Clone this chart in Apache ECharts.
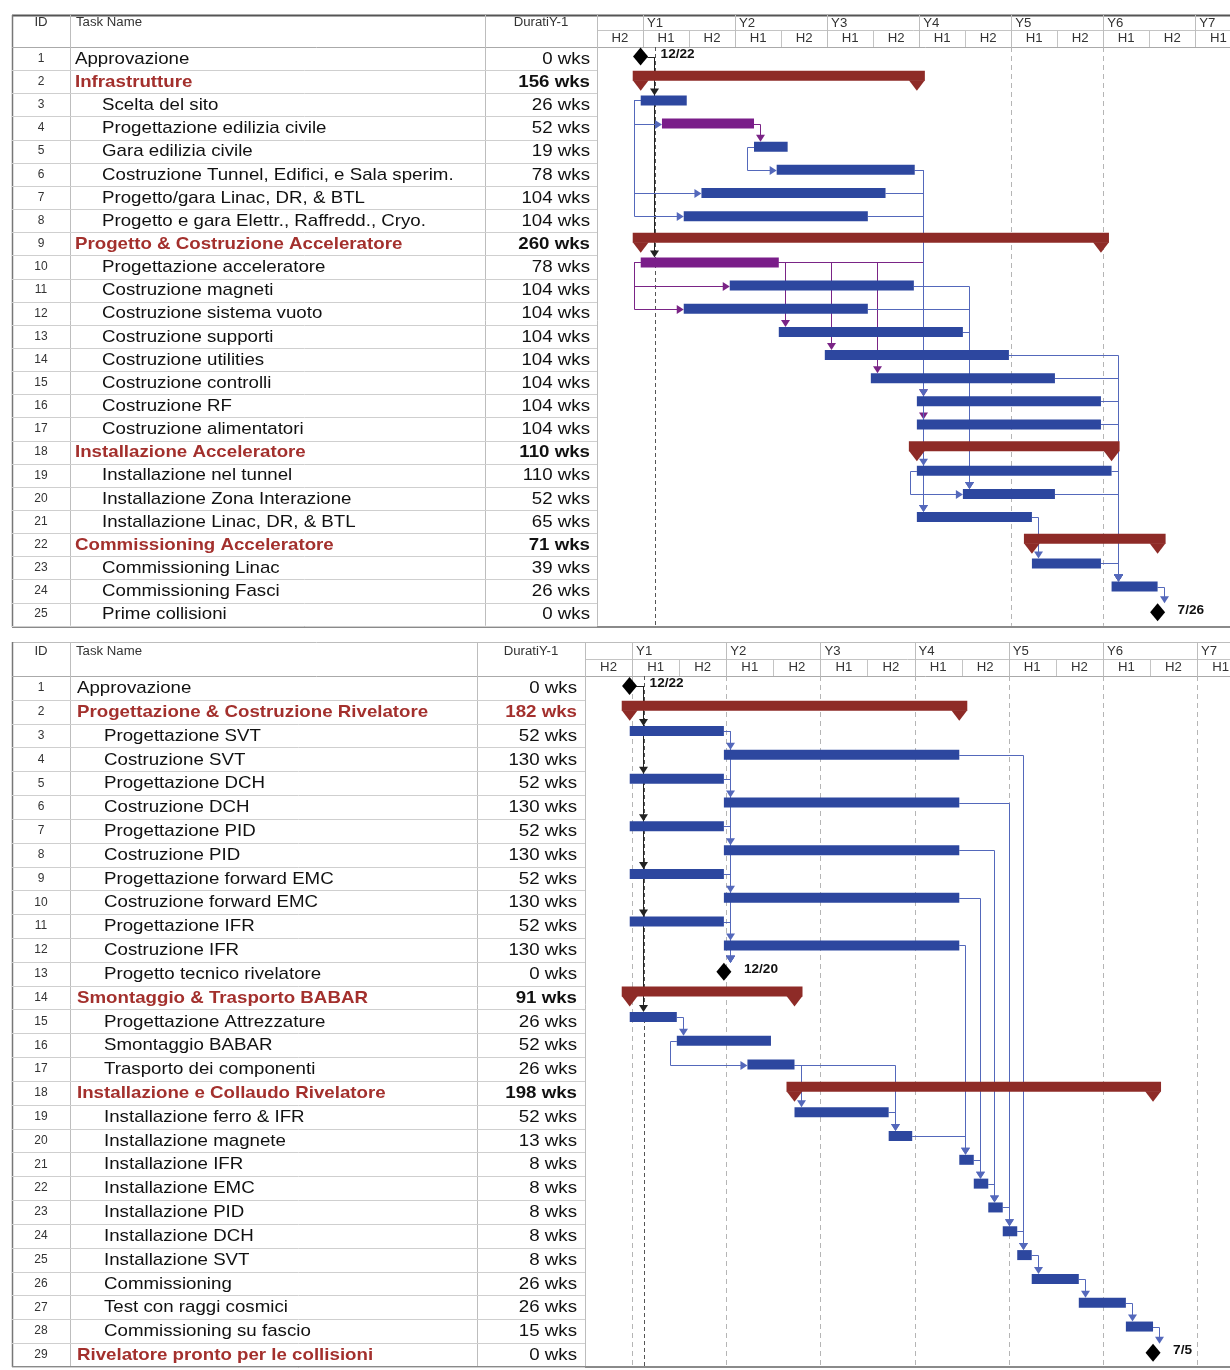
<!DOCTYPE html>
<html>
<head>
<meta charset="utf-8">
<title>Gantt</title>
<script src="https://cdn.jsdelivr.net/npm/echarts@6/dist/echarts.min.js"></script>
<style>
html,body{margin:0;padding:0;background:#ffffff;}
#chart{width:1230px;height:1370px;}
</style>
</head>
<body>
<div id="chart"></div>
<script>
// ---------------- tick labels ----------------
const yearLabels = ['Y1','Y2','Y3','Y4','Y5','Y6','Y7'];
const halfLabels = ['H2','H1','H2','H1','H2','H1','H2','H1','H2','H1','H2','H1','H2','H1'];
const tableHeaders = ['ID','Task Name','DuratiY-1'];

// ---------------- top panel : acceleratore ----------------
const topIds = [1,2,3,4,5,6,7,8,9,10,11,12,13,14,15,16,17,18,19,20,21,22,23,24,25];
const topNames = [
  'Approvazione','Infrastrutture','Scelta del sito','Progettazione edilizia civile','Gara edilizia civile',
  'Costruzione Tunnel, Edifici, e Sala sperim.','Progetto/gara Linac, DR, & BTL','Progetto e gara Elettr., Raffredd., Cryo.',
  'Progetto & Costruzione Acceleratore','Progettazione acceleratore','Costruzione magneti','Costruzione sistema vuoto',
  'Costruzione supporti','Costruzione utilities','Costruzione controlli','Costruzione RF','Costruzione alimentatori',
  'Installazione Acceleratore','Installazione nel tunnel','Installazione Zona Interazione','Installazione Linac, DR, & BTL',
  'Commissioning Acceleratore','Commissioning Linac','Commissioning Fasci','Prime collisioni'
];
const topDurations = [0,156,26,52,19,78,104,104,260,78,104,104,104,104,104,104,104,110,110,52,65,71,39,26,0];
const topStarts = [-1.4,-1.3,-1.3,10.7,62.7,75.5,33,23,-1.3,-1.3,49,23,76.7,102.7,128.7,154.7,154.7,154.7,154.7,180.7,154.7,219.7,219.7,264.7,290.7];
const topKinds = ['M','S','T','C','T','T','T','T','S','C','T','T','T','T','T','T','T','S','T','T','T','S','T','T','M'];
const topLevels = [0,0,1,1,1,1,1,1,0,1,1,1,1,1,1,1,1,0,1,1,1,0,1,1,1];
const topDates = [[1,'12/22'],[25,'7/26']];
const topLinks = [
  [1,3,'FS'],[1,10,'FS'],[3,4,'SS'],[4,5,'FS'],[5,6,'SS'],[3,7,'SS'],[3,8,'SS'],
  [10,11,'SS'],[10,12,'SS'],[10,13,'FS'],[10,14,'FS'],[10,15,'FS'],[10,16,'FS'],[10,17,'FS'],
  [6,19,'FS'],[6,21,'FS'],[7,21,'FS'],[8,16,'FS'],[11,20,'FS'],[12,20,'FS'],[13,20,'FS'],[19,20,'SS'],
  [14,24,'FS'],[15,24,'FS'],[16,24,'FS'],[17,24,'FS'],[19,24,'FS'],[20,24,'FS'],[23,24,'FS'],
  [21,23,'FS'],[24,25,'FS']
];
const topYearLines = [208,260];
const topStatusWeek = 6.8;

// ---------------- bottom panel : rivelatore ----------------
const botIds = [1,2,3,4,5,6,7,8,9,10,11,12,13,14,15,16,17,18,19,20,21,22,23,24,25,26,27,28,29];
const botNames = [
  'Approvazione','Progettazione & Costruzione Rivelatore','Progettazione SVT','Costruzione SVT','Progettazione DCH',
  'Costruzione DCH','Progettazione PID','Costruzione PID','Progettazione forward EMC','Costruzione forward EMC',
  'Progettazione IFR','Costruzione IFR','Progetto tecnico rivelatore','Smontaggio & Trasporto BABAR',
  'Progettazione Attrezzature','Smontaggio BABAR','Trasporto dei componenti','Installazione e Collaudo Rivelatore',
  'Installazione ferro & IFR','Installazione magnete','Installazione IFR','Installazione EMC','Installazione PID',
  'Installazione DCH','Installazione SVT','Commissioning','Test con raggi cosmici','Commissioning su fascio',
  'Rivelatore pronto per le collisioni'
];
const botDurations = [0,182,52,130,52,130,52,130,52,130,52,130,0,91,26,52,26,198,52,13,8,8,8,8,8,26,26,15,0];
const botStarts = [-1.4,-1.3,-1.3,50.7,-1.3,50.7,-1.3,50.7,-1.3,50.7,-1.3,50.7,50.7,-1.3,-1.3,24.7,63.7,89.7,89.7,141.7,180.7,188.7,196.7,204.7,212.7,220.7,246.7,272.7,287.7];
const botKinds = ['M','S','T','T','T','T','T','T','T','T','T','T','M','S','T','T','T','S','T','T','T','T','T','T','T','T','T','T','M'];
const botLevels = [0,0,1,1,1,1,1,1,1,1,1,1,1,0,1,1,1,0,1,1,1,1,1,1,1,1,1,1,0];
const botDates = [[1,'12/22'],[13,'12/20'],[29,'7/5']];
const botLinks = [
  [1,3,'FS'],[1,5,'FS'],[1,7,'FS'],[1,9,'FS'],[1,11,'FS'],[1,15,'FS'],
  [3,4,'FS'],[5,6,'FS'],[7,8,'FS'],[9,10,'FS'],[11,12,'FS'],
  [3,13,'FS'],[5,13,'FS'],[7,13,'FS'],[9,13,'FS'],[11,13,'FS'],
  [4,25,'FS'],[6,24,'FS'],[8,23,'FS'],[10,22,'FS'],[12,21,'FS'],
  [15,16,'FS'],[16,17,'SS'],[17,19,'FS'],[17,20,'FS'],[19,20,'FS'],[20,21,'FS'],
  [21,22,'FS'],[22,23,'FS'],[23,24,'FS'],[24,25,'FS'],[25,26,'FS'],[26,27,'FS'],[27,28,'FS'],[28,29,'FS']
];
const botYearLines = [0,52,104,156,208,260,312];
const botStatusWeek = 6.8;

const PANELS = [
  {ids:topIds,names:topNames,durations:topDurations,starts:topStarts,kinds:topKinds,levels:topLevels,dates:topDates,links:topLinks,yearLines:topYearLines,status:topStatusWeek},
  {ids:botIds,names:botNames,durations:botDurations,starts:botStarts,kinds:botKinds,levels:botLevels,dates:botDates,links:botLinks,yearLines:botYearLines,status:botStatusWeek}
];

// ---------------- layout & style ----------------
const LAYOUT = [
  {left:597, top:47, rowH:23.15, headTop:15, headMid:30, headTextY:23, frameLeft:12, divId:70, divName:485, idX:41,
   nameX0:75, nameX1:102, durRight:590, min:-26, max:331.6, barH:10, frameBottom:627, redNameIds:[], redDurIds:[]},
  {left:585, top:676, rowH:23.82, headTop:642, headMid:659, headTextY:652, frameLeft:12, divId:70, divName:477, idX:41,
   nameX0:77, nameX1:104, durRight:577, min:-26, max:330.2, barH:10, frameBottom:1367, redNameIds:[29], redDurIds:[2]}
];
const FONT = '"Liberation Sans", Arial, Helvetica, sans-serif';
const TXT_SCALE = 1.1;
const C = {
  task:'#2d479f', crit:'#7a1d89', summary:'#8e2b27', red:'#a3302d', text:'#111111',
  linkBlue:'#5468bb', linkPurple:'#7a2486', linkDark:'#222222', grid:'#cfcfcf', frame:'#777777'
};
const HALF = 26, YEAR = 52;

function txt(x, y, text, font, fill, align, scale) {
  return {type:'text', x:x, y:y, scaleX: scale || 1, scaleY: 1,
    style:{text:text, font:font, fill:fill, textAlign:align, align:align, textVerticalAlign:'middle', verticalAlign:'middle'}};
}
function ln(x1, y1, x2, y2, stroke, w, dash) {
  return {type:'line', shape:{x1:x1, y1:y1, x2:x2, y2:y2}, style:{stroke:stroke, lineWidth:w || 1, lineDash: dash || null}};
}
function crisp(v) { return Math.round(v) + 0.5; }

// vertical geometry helpers (relative to row centre)
function barCenterY(kind, yc) { return kind === 'S' ? yc - 6 : (kind === 'M' ? yc - 2 : yc - 4.5); }
function barTopY(kind, yc, L) { return kind === 'S' ? yc - 11 : (kind === 'M' ? yc - 11 : yc - 4.5 - L.barH / 2); }

function tableRender(p) {
  return function (params, api) {
    const D = PANELS[p], L = LAYOUT[p], i = params.dataIndex;
    const yc = api.coord([0, i])[1];
    const half = api.size([0, 1])[1] / 2;
    const yb = crisp(yc + half);
    const kind = D.kinds[i];
    const isSum = kind === 'S';
    const redName = isSum || L.redNameIds.indexOf(D.ids[i]) >= 0;
    const redDur = L.redDurIds.indexOf(D.ids[i]) >= 0;
    const nameFont = (redName ? 'bold ' : '') + '17px ' + FONT;
    const durFont = (isSum ? 'bold ' : '') + '17px ' + FONT;
    return {type:'group', children:[
      ln(L.frameLeft, yb, L.left, yb, C.grid, 1),
      txt(L.idX, yc, String(D.ids[i]), '12px ' + FONT, '#333', 'center', 1),
      txt(D.levels[i] ? L.nameX1 : L.nameX0, yc + 0.5, D.names[i], nameFont, redName ? C.red : C.text, 'left', TXT_SCALE),
      txt(L.durRight, yc + 0.5, D.durations[i] + ' wks', durFont, redDur ? C.red : C.text, 'right', TXT_SCALE)
    ]};
  };
}

function halfRender(p) {
  return function (params, api) {
    const L = LAYOUT[p], cs = params.coordSys;
    const s = api.value(0);
    const x1 = api.coord([s, 0])[0], x2 = api.coord([s + HALF, 0])[0];
    const ch = [];
    if (x1 > cs.x + 1) ch.push(ln(crisp(x1), L.headMid, crisp(x1), cs.y, '#c4c4c4', 1));
    ch.push(txt((x1 + x2) / 2, (L.headMid + cs.y) / 2 + 0.5, halfLabels[params.dataIndex], '12px ' + FONT, '#333', 'center', TXT_SCALE));
    return {type:'group', children:ch};
  };
}
function yearRender(p) {
  return function (params, api) {
    const L = LAYOUT[p], cs = params.coordSys;
    const x1 = api.coord([api.value(0), 0])[0];
    return {type:'group', children:[
      ln(crisp(x1), L.headTop, crisp(x1), cs.y, '#bdbdbd', 1),
      txt(x1 + 4, (L.headTop + L.headMid) / 2 + 1, yearLabels[params.dataIndex], '12px ' + FONT, '#333', 'left', TXT_SCALE)
    ]};
  };
}
function vlineRender(color, dash) {
  return function (params, api) {
    const cs = params.coordSys;
    const x = crisp(api.coord([api.value(0), 0])[0]);
    return ln(x, cs.y, x, cs.y + cs.height, color, 1, dash);
  };
}

function linkRender(p) {
  return function (params, api) {
    const D = PANELS[p], L = LAYOUT[p];
    const lk = D.links[params.dataIndex];
    const f = lk[0] - 1, t = lk[1] - 1, type = lk[2];
    const yc = function (i) { return api.coord([0, i])[1]; };
    const px = function (w) { return api.coord([w, 0])[0]; };
    const kf = D.kinds[f], kt = D.kinds[t];
    const color = kf === 'C' ? C.linkPurple : (kf === 'M' ? C.linkDark : C.linkBlue);
    const ye = crisp(barCenterY(kf, yc(f)));
    const ch = [];
    if (type === 'FS') {
      const pe = px(D.starts[f] + D.durations[f]) + (kf === 'M' ? 7 : 0);
      const ps = px(D.starts[t]);
      const vx = crisp(Math.max(ps, pe) + 6);
      const tt = barTopY(kt, yc(t), L);
      ch.push({type:'polyline', shape:{points:[[pe, ye], [vx, ye], [vx, tt - 5]]}, style:{stroke:color, lineWidth:1, fill:null}});
      ch.push({type:'polygon', shape:{points:[[vx - 4.5, tt - 7], [vx + 4.5, tt - 7], [vx, tt]]}, style:{fill:color}});
    } else {
      const pf = px(D.starts[f]);
      const sx = crisp(pf - 7);
      const pt = px(D.starts[t]);
      const yt = crisp(barCenterY(kt, yc(t)));
      ch.push({type:'polyline', shape:{points:[[pf, ye], [sx, ye], [sx, yt], [pt - 5, yt]]}, style:{stroke:color, lineWidth:1, fill:null}});
      ch.push({type:'polygon', shape:{points:[[pt - 7, yt - 4.5], [pt - 7, yt + 4.5], [pt, yt]]}, style:{fill:color}});
    }
    return {type:'group', children:ch};
  };
}

function barRender(p) {
  return function (params, api) {
    const D = PANELS[p], L = LAYOUT[p], i = params.dataIndex;
    const kind = D.kinds[i];
    const yc = api.coord([0, i])[1];
    const x1 = api.coord([D.starts[i], 0])[0];
    const x2 = api.coord([D.starts[i] + D.durations[i], 0])[0];
    if (kind === 'M') {
      const cy = barCenterY(kind, yc);
      let label = '';
      D.dates.forEach(function (d) { if (d[0] === D.ids[i]) label = d[1]; });
      return {type:'group', children:[
        {type:'polygon', shape:{points:[[x1 - 7.5, cy], [x1, cy - 9], [x1 + 7.5, cy], [x1, cy + 9]]}, style:{fill:'#000'}},
        txt(x1 + 20, cy - 2, label, 'bold 13px ' + FONT, '#111', 'left', 1.05)
      ]};
    }
    if (kind === 'S') {
      const yT = yc - 11, yB = yc - 1, tip = yc + 9;
      return {type:'group', children:[
        {type:'rect', shape:{x:x1 - 8, y:yT, width:(x2 + 8) - (x1 - 8), height:yB - yT}, style:{fill:C.summary}},
        {type:'polygon', shape:{points:[[x1 - 8, yB - 0.5], [x1 + 8, yB - 0.5], [x1, tip]]}, style:{fill:C.summary}},
        {type:'polygon', shape:{points:[[x2 - 8, yB - 0.5], [x2 + 8, yB - 0.5], [x2, tip]]}, style:{fill:C.summary}}
      ]};
    }
    const cy = barCenterY(kind, yc);
    return {type:'rect', shape:{x:x1, y:cy - L.barH / 2, width:x2 - x1, height:L.barH},
      style:{fill: kind === 'C' ? C.crit : C.task}};
  };
}

// ---------------- build option ----------------
const grids = [], xAxes = [], yAxes = [], series = [], graphics = [];
PANELS.forEach(function (D, p) {
  const L = LAYOUT[p];
  const n = D.ids.length;
  grids.push({left:L.left, top:L.top, width:1230 - L.left, height:n * L.rowH, containLabel:false});
  xAxes.push({gridIndex:p, type:'value', min:L.min, max:L.max, show:false});
  yAxes.push({gridIndex:p, type:'category', data:D.ids.map(String), inverse:true, show:false});
  const rowData = D.ids.map(function (id, i) { return [D.starts[i], i]; });
  const base = {type:'custom', xAxisIndex:p, yAxisIndex:p, clip:false, silent:true, animation:false};
  series.push(Object.assign({}, base, {name:'table' + p, z:3, data:rowData, renderItem:tableRender(p)}));
  series.push(Object.assign({}, base, {name:'half' + p, z:3, data:halfLabels.map(function (h, k) { return [L.min + HALF * k, 0]; }), renderItem:halfRender(p)}));
  series.push(Object.assign({}, base, {name:'year' + p, z:3, data:yearLabels.map(function (y, k) { return [YEAR * k, 0]; }), renderItem:yearRender(p)}));
  series.push(Object.assign({}, base, {name:'ylines' + p, z:1, data:D.yearLines.map(function (w) { return [w, 0]; }), renderItem:vlineRender('#b5b5b5', [5, 4])}));
  series.push(Object.assign({}, base, {name:'status' + p, z:1, data:[[D.status, 0]], renderItem:vlineRender('#555555', [4, 3])}));
  series.push(Object.assign({}, base, {name:'links' + p, z:4, data:D.links.map(function (l) { return [D.starts[l[1] - 1], l[1] - 1]; }), renderItem:linkRender(p)}));
  series.push(Object.assign({}, base, {name:'bars' + p, z:5, data:rowData, renderItem:barRender(p)}));

  // frame lines and table header
  const gBottom = L.top + n * L.rowH;
  const topLineColor = p === 0 ? '#555' : '#bdbdbd';
  graphics.push({type:'line', shape:{x1:L.frameLeft, y1:L.headTop + 0.5, x2:1230, y2:L.headTop + 0.5}, style:{stroke:topLineColor, lineWidth:p === 0 ? 2 : 1}});
  graphics.push({type:'line', shape:{x1:L.frameLeft + 0.5, y1:L.headTop, x2:L.frameLeft + 0.5, y2:L.frameBottom}, style:{stroke:C.frame, lineWidth:1.5}});
  graphics.push({type:'line', shape:{x1:L.left, y1:L.headMid + 0.5, x2:1230, y2:L.headMid + 0.5}, style:{stroke:'#c4c4c4', lineWidth:1}});
  graphics.push({type:'line', shape:{x1:L.frameLeft, y1:crisp(L.top), x2:1230, y2:crisp(L.top)}, style:{stroke:'#aaaaaa', lineWidth:1}});
  [L.divId, L.divName, L.left].forEach(function (x) {
    graphics.push({type:'line', shape:{x1:x + 0.5, y1:L.headTop, x2:x + 0.5, y2:gBottom}, style:{stroke:'#bdbdbd', lineWidth:1}});
  });
  graphics.push({type:'line', shape:{x1:L.frameLeft, y1:L.frameBottom, x2:1230, y2:L.frameBottom}, style:{stroke:'#8a8a8a', lineWidth:2}});
  const hx = [L.idX, 76, (L.divName + L.left) / 2];
  const ha = ['center', 'left', 'center'];
  tableHeaders.forEach(function (h, k) {
    graphics.push({type:'text', x:hx[k], y:L.headTextY, scaleX:TXT_SCALE,
      style:{text:h, font:'12px ' + FONT, fill:'#333', textAlign:ha[k], align:ha[k], textVerticalAlign:'middle', verticalAlign:'middle'}});
  });
});

const chart = echarts.init(document.getElementById('chart'), null, {renderer:'canvas'});
chart.setOption({
  animation:false,
  backgroundColor:'#ffffff',
  grid:grids, xAxis:xAxes, yAxis:yAxes,
  graphic:{elements:graphics},
  series:series
});
</script>
</body>
</html>
